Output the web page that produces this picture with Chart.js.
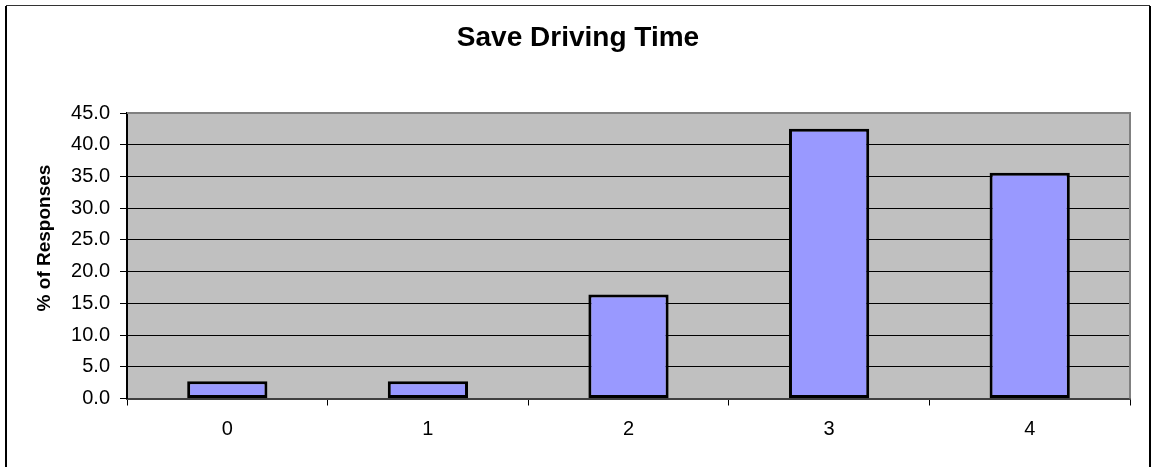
<!DOCTYPE html>
<html>
<head>
<meta charset="utf-8">
<title>Save Driving Time</title>
<script src="https://cdn.jsdelivr.net/npm/chart.js@4/dist/chart.umd.min.js"></script>
<style>
  html, body { margin: 0; padding: 0; background: #ffffff; }
  #wrap { width: 1153px; height: 467px; }
</style>
</head>
<body>
<div id="wrap"><canvas id="chart" width="1153" height="467"></canvas></div>
<script>
// Survey results: share of responses per rating
const categories = ['0', '1', '2', '3', '4'];
const responses = [2.7, 2.7, 16.4, 42.5, 35.6];
const yMin = 0;
const yMax = 45;
const yStep = 5;

const chartTitle = 'Save Driving Time';
const yAxisTitle = '% of Responses';

const FONT = '"Liberation Sans", Arial, Helvetica, sans-serif';

// Grey plot area, outer frame and the top/right plot edges
const framePlugin = {
  id: 'frame',
  beforeDraw(chart) {
    const { ctx, chartArea: a } = chart;
    ctx.save();
    ctx.fillStyle = '#ffffff';
    ctx.fillRect(0, 0, chart.width, chart.height);
    ctx.fillStyle = '#c0c0c0';
    ctx.fillRect(a.left, a.top, a.right - a.left, a.bottom - a.top);
    // outer chart border
    ctx.strokeStyle = '#000000';
    ctx.lineWidth = 2;
    ctx.beginPath();
    ctx.moveTo(6, 470); ctx.lineTo(6, 6);
    ctx.moveTo(1150, 6); ctx.lineTo(1150, 470);
    ctx.stroke();
    ctx.strokeStyle = '#333333';
    ctx.lineWidth = 1;
    ctx.beginPath();
    ctx.moveTo(6, 5.5); ctx.lineTo(1150, 5.5);
    ctx.stroke();
    ctx.restore();
  },
  afterDatasetsDraw(chart) {
    const { ctx, chartArea: a } = chart;
    ctx.save();
    ctx.strokeStyle = '#808080';
    ctx.lineWidth = 2;
    ctx.beginPath();
    ctx.moveTo(a.left, a.top);
    ctx.lineTo(a.right, a.top);
    ctx.lineTo(a.right, a.bottom);
    ctx.stroke();
    ctx.restore();
  }
};

// Vertical value-axis caption, set slightly above the plot's middle
const yTitlePlugin = {
  id: 'yTitle',
  afterDraw(chart) {
    const { ctx } = chart;
    ctx.save();
    ctx.translate(45, 238);
    ctx.rotate(-Math.PI / 2);
    ctx.fillStyle = '#000000';
    ctx.font = 'bold 19px ' + FONT;
    ctx.textAlign = 'center';
    ctx.textBaseline = 'middle';
    ctx.fillText(yAxisTitle, 0, 0);
    ctx.restore();
  }
};

new Chart(document.getElementById('chart'), {
  type: 'bar',
  data: {
    labels: categories,
    datasets: [{
      data: responses,
      backgroundColor: '#9999ff',
      borderColor: '#000000',
      borderWidth: 3,
      borderSkipped: false,
      categoryPercentage: 1.0,
      barPercentage: 0.4
    }]
  },
  options: {
    responsive: false,
    animation: false,
    devicePixelRatio: 1,
    layout: { padding: { left: 26, right: 23, top: 0, bottom: 0 } },
    plugins: {
      legend: { display: false },
      tooltip: { enabled: false },
      title: {
        display: true,
        text: chartTitle,
        color: '#000000',
        font: { family: FONT, size: 28, weight: 'bold', lineHeight: 1.2 },
        padding: { top: 21.8, bottom: 57.6 }
      }
    },
    scales: {
      x: {
        type: 'category',
        offset: true,
        grid: {
          offset: true,
          drawOnChartArea: false,
          drawTicks: true,
          tickLength: 7,
          tickColor: '#000000',
          tickWidth: 1
        },
        border: { display: true, color: '#404040', width: 2 },
        ticks: {
          color: '#000000',
          padding: 12,
          font: { family: FONT, size: 20 },
          maxRotation: 0
        },
        afterFit(scale) { scale.height = 68.5; }
      },
      y: {
        min: yMin,
        max: yMax,
        grid: {
          color: '#000000',
          lineWidth: 1,
          drawTicks: true,
          tickLength: 7,
          tickColor: '#000000'
        },
        border: { display: true, color: '#000000', width: 2 },
        ticks: {
          stepSize: yStep,
          color: '#000000',
          padding: 10,
          font: { family: FONT, size: 20 },
          callback: (v) => Number(v).toFixed(1)
        },
        title: { display: false },
        afterFit(scale) { scale.width = 101; }
      }
    }
  },
  plugins: [framePlugin, yTitlePlugin]
});
</script>
</body>
</html>
